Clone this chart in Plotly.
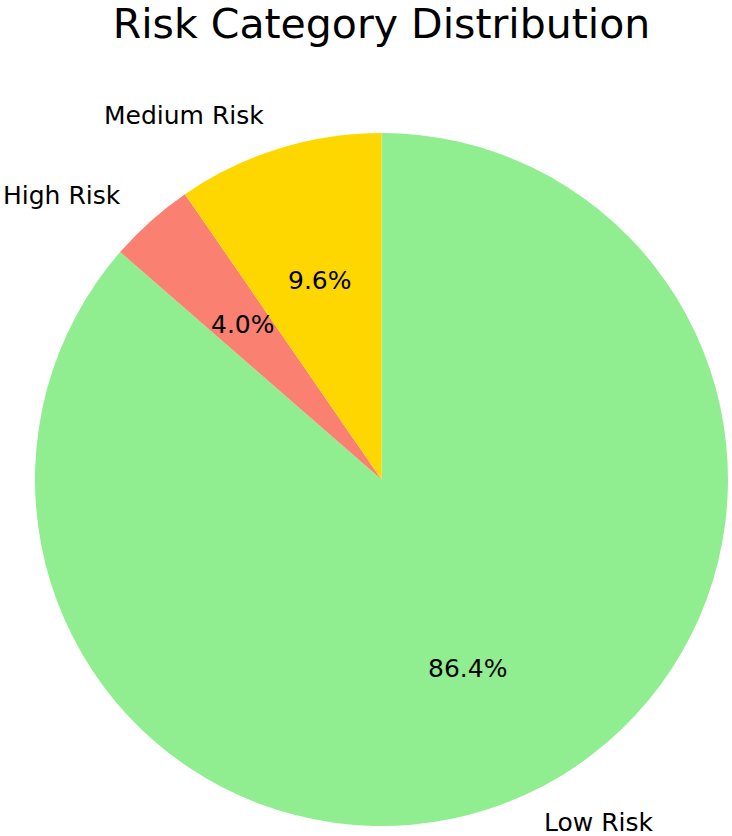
import math
import plotly.graph_objects as go

# Data
labels = ["Low Risk", "High Risk", "Medium Risk"]
percents = [86.4, 4.0, 9.6]
colors = ["#90EE90", "#FA8072", "#FFD700"]

W, H = 732, 836
CX, CY, R = 381.5, 479.5, 346.5  # pie centre / radius in pixels

fig = go.Figure()
fig.add_trace(go.Pie(
    labels=labels, values=percents, sort=False,
    direction="clockwise", rotation=0,
    marker=dict(colors=colors, line=dict(width=0)),
    textinfo="none", hoverinfo="label+percent", showlegend=False,
    domain=dict(x=[(CX - R) / W, (CX + R) / W], y=[(H - CY - R) / H, (H - CY + R) / H]),
))

font = "DejaVu Sans, Verdana, sans-serif"
annotations = []
total = sum(percents)
start = 90.0
for lab, v in zip(labels, percents):
    span = 360.0 * v / total
    mid = math.radians(start - span / 2)
    start -= span
    px = CX + 0.6 * R * math.cos(mid)
    py = CY - 0.6 * R * math.sin(mid)
    annotations.append(dict(x=px / W, y=1 - py / H, xref="paper", yref="paper",
                            text=f"{v:.1f}%", showarrow=False, xanchor="center", yanchor="middle",
                            font=dict(family=font, size=25, color="#000000")))
    lx = CX + 1.12 * R * math.cos(mid)
    ly = CY - 1.1 * R * math.sin(mid)
    ly = min(ly, H - 14)
    annotations.append(dict(x=lx / W, y=1 - ly / H, xref="paper", yref="paper",
                            text=lab, showarrow=False,
                            xanchor="left" if math.cos(mid) > 0 else "right", yanchor="middle",
                            font=dict(family=font, size=25, color="#000000")))

fig.update_layout(
    width=W, height=H,
    margin=dict(l=0, r=0, t=0, b=0),
    paper_bgcolor="white", plot_bgcolor="white",
    title=dict(text="Risk Category Distribution", x=CX / W, xanchor="center",
               y=1 - 24 / H, yanchor="middle", yref="container",
               font=dict(family=font, size=41, color="#000000")),
    annotations=annotations,
)

fig.write_html("out.html", config={"displayModeBar": False},
               post_script="document.body.style.margin='0px';")
